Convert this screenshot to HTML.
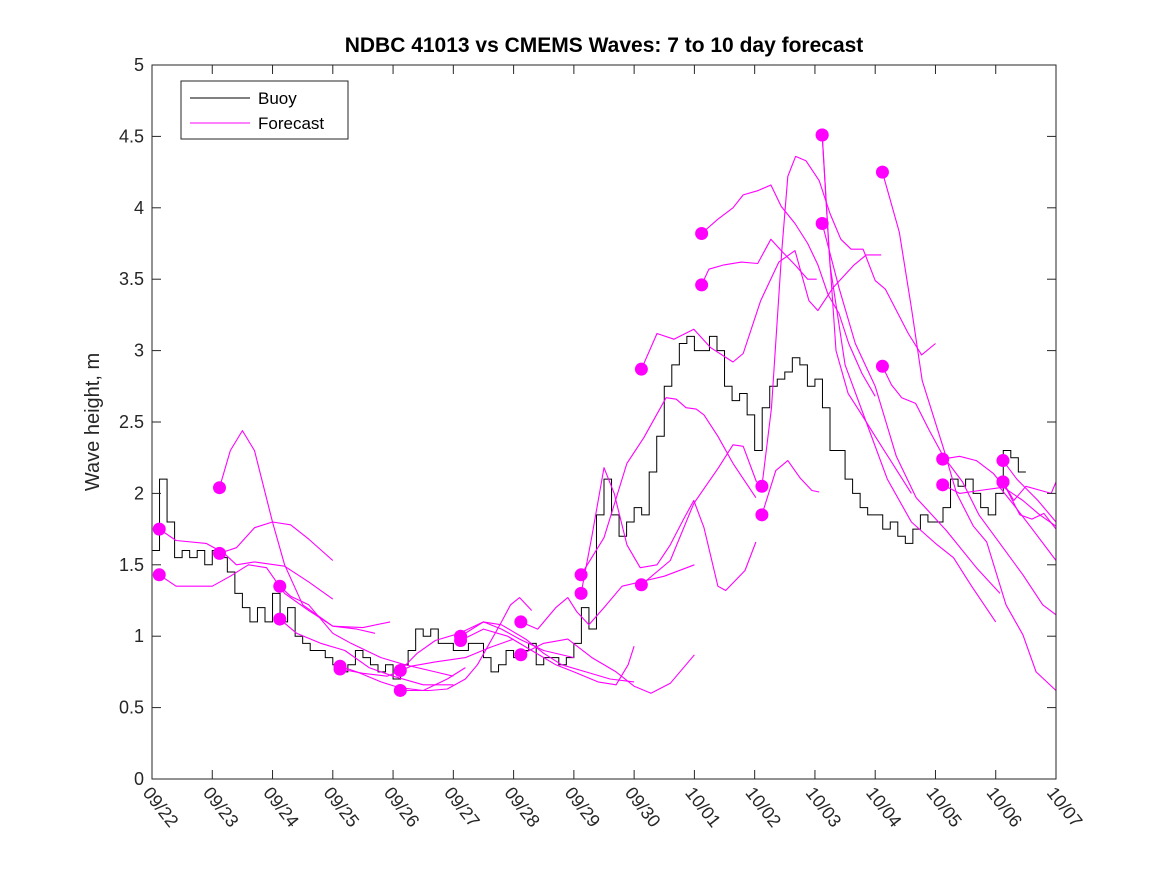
<!DOCTYPE html>
<html><head><meta charset="utf-8"><style>
body{margin:0;background:#fff;}
svg{display:block;font-family:"Liberation Sans","DejaVu Sans",sans-serif;}
</style></head><body>
<svg id="chart" width="1167" height="875" viewBox="0 0 1167 875" xmlns="http://www.w3.org/2000/svg">
<rect width="1167" height="875" fill="#fff"/>
<text x="604" y="52" text-anchor="middle" font-size="21" font-weight="bold" fill="#000">NDBC 41013 vs CMEMS Waves: 7 to 10 day forecast</text>
<text transform="translate(99,422) rotate(-90)" text-anchor="middle" font-size="20" fill="#262626">Wave height, m</text>
<g id="plot"></g>
<rect x="152" y="65" width="904" height="714" fill="none" stroke="#262626" stroke-width="1"/>
<g id="axes"></g>
<g>
<rect x="181" y="81" width="167" height="58" fill="#fff" stroke="#262626" stroke-width="1"/>
<line x1="190" y1="98" x2="250" y2="98" stroke="#000" stroke-width="1"/>
<text x="258" y="104" font-size="17" fill="#000">Buoy</text>
<line x1="190" y1="123" x2="250" y2="123" stroke="#ff00ff" stroke-width="1"/>
<text x="258" y="129" font-size="17" fill="#000">Forecast</text>
</g>
</svg>
<script>
const xTickLabels=["09/22","09/23","09/24","09/25","09/26","09/27","09/28","09/29","09/30","10/01","10/02","10/03","10/04","10/05","10/06","10/07"];
const yTickLabels=["0","0.5","1","1.5","2","2.5","3","3.5","4","4.5","5"];
const yTicks=[0,0.5,1,1.5,2,2.5,3,3.5,4,4.5,5];
const buoyStepDays=0.125;
const buoyValues=[1.6,2.1,1.8,1.55,1.6,1.55,1.6,1.5,
1.6,1.55,1.45,1.3,1.2,1.1,1.2,1.1,
1.3,1.1,1.2,1.0,0.95,0.9,0.9,0.85,
0.8,0.75,0.8,0.9,0.85,0.8,0.75,0.8,
0.7,0.8,0.9,1.05,1.0,1.05,0.95,0.95,
0.9,0.9,0.95,0.95,0.85,0.75,0.8,0.9,
0.85,0.9,0.95,0.8,0.85,0.85,0.8,0.85,
0.95,1.2,1.05,1.85,2.1,1.85,1.7,1.8,
1.9,1.85,2.15,2.4,2.75,2.9,3.05,3.1,
3.0,3.0,3.1,3.0,2.75,2.65,2.7,2.55,
2.3,2.6,2.75,2.8,2.85,2.95,2.9,2.75,
2.8,2.6,2.3,2.3,2.1,2.0,1.9,1.85,
1.85,1.75,1.8,1.7,1.65,1.75,1.85,1.8,
1.8,1.9,2.1,2.05,2.1,2.0,1.9,1.85,
2.0,2.3,2.25,2.15];
const forecastDays=[
[0.12,0.4,0.9,1.2,1.4,1.7,2.2,2.6,3.0],
[0.12,0.4,1.0,1.3,1.6,1.9,2.2,2.6,3.0,3.4,3.7],
[1.12,1.3,1.5,1.7,2.0,2.2,2.5,3.0,3.5,3.95],
[1.12,1.4,1.7,2.0,2.3,2.6,3.0],
[2.12,2.3,2.6,3.0,3.3,3.8,4.2,4.7,5.0],
[2.12,2.4,2.8,3.2,3.6,4.0,4.5,5.0],
[3.12,3.4,3.8,4.1,4.5,4.9,5.2],
[3.12,3.5,3.9,4.3,4.7,5.2,5.6,6.0],
[4.12,4.4,4.7,5.1,5.5,5.8,6.1,6.5,7.0],
[4.12,4.6,4.9,5.2,5.4,5.6,5.8,5.95,6.1,6.3],
[5.12,5.5,5.8,6.2,6.5,6.8,7.2,7.6,8.0],
[5.12,5.5,5.9,6.3,6.7,7.0,7.4,7.7,7.9,8.0],
[6.12,6.4,6.7,6.9,7.05,7.25,7.5,7.8,8.1,8.5,9.0],
[6.12,6.5,6.9,7.3,7.7,8.0,8.28,8.6,9.0],
[7.12,7.5,7.88,8.16,8.53,8.7,8.86,9.03,9.16,9.39,9.64,10.02],
[7.12,7.3,7.5,7.67,7.88,8.1,8.38,8.6,8.82,8.99,9.16,9.39,9.52,9.84,10.02],
[8.12,8.38,8.66,8.99,9.27,9.64,9.81,10.1,10.4,10.67,10.9,11.05,11.3,11.65,11.85,12.1],
[8.12,8.6,8.99,9.4,9.64,9.81,10.03],
[9.12,9.39,9.64,9.81,10.05,10.27,10.44,10.67,10.88,11.05,11.22,11.4,11.56,11.78,12.0],
[9.12,9.24,9.49,9.78,10.05,10.27,10.44,10.67,10.88,11.03],
[10.12,10.35,10.55,10.75,10.95,11.07],
[10.12,10.28,10.45,10.55,10.68,10.85,11.07,11.25,11.43,11.6,11.8,12.0,12.17,12.55,12.77,13.0],
[11.12,11.22,11.35,11.55,11.78,12.0,12.3,12.6],
[11.12,11.4,11.67,12.0,12.35,12.68,13.18,13.68,14.07],
[11.12,11.25,11.5,11.85,12.2,12.6,13.0,13.3,13.6,14.0],
[12.12,12.4,12.6,12.78,13.13,13.35,13.63,13.85,14.17,14.45,14.67,15.0],
[12.12,12.27,12.44,12.67,12.9,13.13,13.45,13.72,14.0,14.45,14.78,15.0],
[13.12,13.4,13.68,13.96,14.17,14.45,14.73,15.0],
[13.12,13.4,13.73,14.07,14.28,14.57,15.0],
[14.12,14.35,14.7,15.0],
[14.12,14.4,14.6,14.8,15.0],
[14.12,14.3,14.5,14.75,14.92,15.0]];
const forecastValues=[
[1.75,1.67,1.65,1.58,1.5,1.52,1.49,1.38,1.26],
[1.43,1.35,1.35,1.42,1.5,1.48,1.3,1.18,1.07,1.05,1.02],
[2.04,2.3,2.44,2.3,1.8,1.5,1.22,1.07,1.06,1.1],
[1.58,1.62,1.76,1.8,1.78,1.68,1.53],
[1.35,1.28,1.22,1.02,0.95,0.85,0.8,0.75,0.72],
[1.12,1.02,0.95,0.9,0.78,0.72,0.66,0.66],
[0.79,0.75,0.68,0.64,0.62,0.7,0.78],
[0.77,0.74,0.72,0.79,0.82,0.85,0.92,0.98],
[0.76,0.88,0.97,1.02,1.1,1.05,0.98,0.9,0.85],
[0.62,0.62,0.63,0.7,0.8,0.95,1.1,1.22,1.27,1.18],
[1.0,1.1,1.08,0.98,0.88,0.8,0.75,0.7,0.68],
[0.97,1.05,1.0,0.9,0.8,0.75,0.68,0.66,0.8,0.93],
[1.1,1.05,1.2,1.27,1.17,1.08,1.2,1.35,1.38,1.42,1.5],
[0.87,0.95,0.98,0.85,0.75,0.65,0.6,0.67,0.87],
[1.43,1.69,2.21,2.39,2.67,2.66,2.6,2.59,2.55,2.4,2.21,1.97],
[1.30,1.7,2.18,2.0,1.64,1.48,1.5,1.64,1.82,1.95,1.76,1.35,1.32,1.46,1.66],
[2.87,3.12,3.08,3.15,3.02,2.92,2.98,3.35,3.62,3.7,3.35,3.28,3.44,3.6,3.67,3.67],
[1.36,1.53,1.93,2.18,2.34,2.33,2.08],
[3.82,3.92,4.0,4.09,4.12,4.16,4.01,3.89,3.75,3.6,3.39,3.26,3.05,2.84,2.68],
[3.46,3.57,3.6,3.62,3.61,3.78,3.7,3.6,3.5,3.5],
[1.85,2.16,2.23,2.11,2.02,2.01],
[2.05,2.6,3.7,4.22,4.36,4.33,4.19,3.96,3.78,3.71,3.71,3.49,3.43,3.12,2.97,3.05],
[4.51,3.8,3.0,2.7,2.55,2.4,2.2,2.0],
[3.89,3.44,3.05,2.75,2.26,1.97,1.74,1.48,1.3],
[4.51,3.6,2.9,2.5,2.1,1.8,1.65,1.55,1.35,1.1],
[4.25,3.83,3.3,2.79,2.32,2.0,1.77,1.66,1.22,1.01,0.75,0.62],
[2.89,2.76,2.67,2.63,2.44,2.26,2.08,1.85,1.69,1.43,1.22,1.15],
[2.24,2.26,2.23,2.14,2.03,1.95,1.85,1.77],
[2.06,2.0,2.02,2.04,1.93,1.77,1.53],
[2.23,2.1,1.95,1.8],
[2.08,1.85,1.82,1.86,1.75],
[2.08,1.95,2.05,2.02,2.0,2.08]];

const NS="http://www.w3.org/2000/svg";
const X0=152,X1=1056,Y0=779,Y1=65,DMAX=15,VMAX=5;
function xs(d){return X0+(X1-X0)*d/DMAX;}
function ys(v){return Y0-(Y0-Y1)*v/VMAX;}
const plot=document.getElementById('plot');
const axes=document.getElementById('axes');
function mk(tag,attrs,parent){const e=document.createElementNS(NS,tag);for(const k in attrs)e.setAttribute(k,attrs[k]);parent.appendChild(e);return e;}

let d="";
buoyValues.forEach((v,i)=>{const x=xs(i*buoyStepDays),y=ys(v);
 if(i===0)d+="M"+x+" "+y;else d+=" H"+x+" V"+y;});
d+=" H"+xs(buoyValues.length*buoyStepDays);
const bl=mk('path',{d:d,fill:'none',stroke:'#000','stroke-width':1},plot);



forecastDays.forEach((days,i)=>{
 const vals=forecastValues[i];
 const pd=days.map((dd,j)=>(j?"L":"M")+xs(dd).toFixed(1)+" "+ys(vals[j]).toFixed(1)).join(" ");
 const p=mk('path',{d:pd,fill:'none',stroke:'#ff00ff','stroke-width':1.1,'stroke-linejoin':'round'},plot);
 
 
});
forecastDays.forEach((days,i)=>{
 const c=mk('ellipse',{cx:xs(days[0]),cy:ys(forecastValues[i][0]),rx:6.5,ry:6.5,fill:'#ff00ff'},plot);
 
 
});

yTicks.forEach((v,i)=>{const y=ys(v);
 mk('line',{x1:X0,y1:y,x2:X0+9,y2:y,stroke:'#262626'},axes);
 mk('line',{x1:X1,y1:y,x2:X1-9,y2:y,stroke:'#262626'},axes);
 const t=mk('text',{x:X0-8,y:y+6,'text-anchor':'end','font-size':18,fill:'#262626'},axes);
 t.textContent=yTickLabels[i];
 
 
});
xTickLabels.forEach((lab,i)=>{const x=xs(i);
 mk('line',{x1:x,y1:Y0,x2:x,y2:Y0-9,stroke:'#262626'},axes);
 mk('line',{x1:x,y1:Y1,x2:x,y2:Y1+9,stroke:'#262626'},axes);
 const t=mk('text',{transform:'translate('+(x-10)+',793) rotate(52)','font-size':18,fill:'#262626'},axes);
 t.textContent=lab;
 
 
});
</script>
</body></html>
